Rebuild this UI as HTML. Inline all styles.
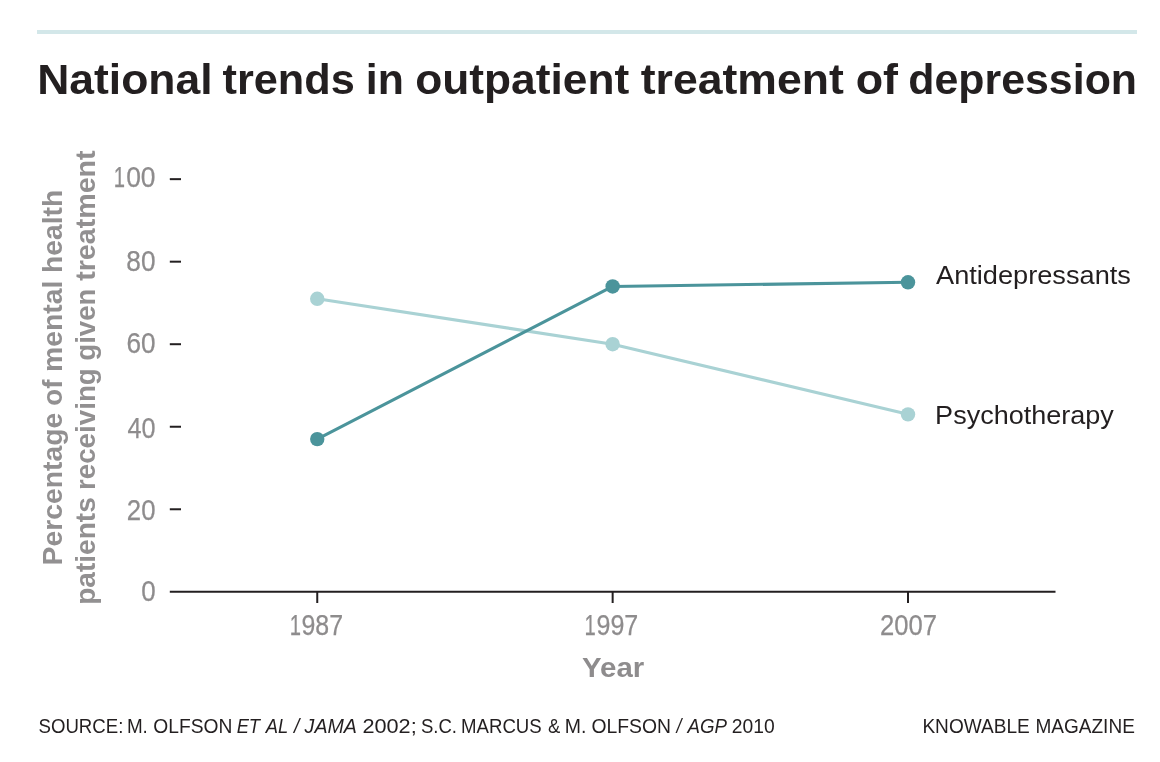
<!DOCTYPE html>
<html lang="en">
<head>
<meta charset="utf-8">
<title>National trends in outpatient treatment of depression</title>
<style>
html,body{margin:0;padding:0;background:#fff;}
body{width:1160px;height:762px;overflow:hidden;font-family:"Liberation Sans",sans-serif;}
svg{display:block;}
text{font-family:"Liberation Sans",sans-serif;white-space:pre;}
.title{font-weight:bold;font-size:43px;fill:#231f20;}
.num{font-size:29.6px;fill:#8e8c8d;stroke:#8e8c8d;stroke-width:0.25px;}
.axt{font-weight:bold;font-size:27px;fill:#929091;}
.yr{font-weight:bold;font-size:28.2px;fill:#8e8c8d;}
.ser{font-size:26px;fill:#231f20;}
.foot{font-size:20px;fill:#231f20;}
</style>
</head>
<body>
<svg width="1160" height="762" viewBox="0 0 1160 762">
<rect x="0" y="0" width="1160" height="762" fill="#ffffff"/>
<rect id="topline" x="37" y="30" width="1100" height="4" fill="#d3e7e9"/>
<text class="title" y="94"><tspan id="t0" x="37.15" textLength="175.45" lengthAdjust="spacingAndGlyphs">National</tspan> <tspan id="t1" x="222.49" textLength="132.29" lengthAdjust="spacingAndGlyphs">trends</tspan> <tspan id="t2" x="365.82" textLength="38.06" lengthAdjust="spacingAndGlyphs">in</tspan> <tspan id="t3" x="415.23" textLength="214.02" lengthAdjust="spacingAndGlyphs">outpatient</tspan> <tspan id="t4" x="640.75" textLength="203.00" lengthAdjust="spacingAndGlyphs">treatment</tspan> <tspan id="t5" x="855.67" textLength="42.33" lengthAdjust="spacingAndGlyphs">of</tspan> <tspan id="t6" x="908.22" textLength="228.83" lengthAdjust="spacingAndGlyphs">depression</tspan></text>
<g id="ytitle" transform="rotate(-90)">
<text class="axt" y="62.2"><tspan id="ya0" x="-565.42" textLength="152.58" lengthAdjust="spacingAndGlyphs">Percentage</tspan> <tspan id="ya1" x="-405.70" textLength="26.14" lengthAdjust="spacingAndGlyphs">of</tspan> <tspan id="ya2" x="-372.01" textLength="91.43" lengthAdjust="spacingAndGlyphs">mental</tspan> <tspan id="ya3" x="-272.98" textLength="83.10" lengthAdjust="spacingAndGlyphs">health</tspan></text>
<text class="axt" y="95.3"><tspan id="yb0" x="-604.80" textLength="107.61" lengthAdjust="spacingAndGlyphs">patients</tspan> <tspan id="yb1" x="-490.05" textLength="121.85" lengthAdjust="spacingAndGlyphs">receiving</tspan> <tspan id="yb2" x="-360.67" textLength="71.99" lengthAdjust="spacingAndGlyphs">given</tspan> <tspan id="yb3" x="-280.81" textLength="130.41" lengthAdjust="spacingAndGlyphs">treatment</tspan></text>
</g>
<g id="ylabels">
<text class="num" y="186.50"><tspan id="y100a" x="113.68" textLength="11.26" lengthAdjust="spacingAndGlyphs">1</tspan><tspan id="y100b" x="126.19" textLength="29.37" lengthAdjust="spacingAndGlyphs">00</tspan></text>
<text class="num" y="270.70"><tspan id="y80" x="126.32" textLength="29.20" lengthAdjust="spacingAndGlyphs">80</tspan></text>
<text class="num" y="353.40"><tspan id="y60" x="126.41" textLength="29.11" lengthAdjust="spacingAndGlyphs">60</tspan></text>
<text class="num" y="437.60"><tspan id="y40" x="127.42" textLength="28.08" lengthAdjust="spacingAndGlyphs">40</tspan></text>
<text class="num" y="520.00"><tspan id="y20" x="126.87" textLength="28.65" lengthAdjust="spacingAndGlyphs">20</tspan></text>
<text class="num" y="600.70"><tspan id="y0" x="141.15" textLength="14.44" lengthAdjust="spacingAndGlyphs">0</tspan></text>
</g>
<g id="yticks" stroke="#231f20" stroke-width="2"><line x1="169.8" x2="181" y1="179.15" y2="179.15"/><line x1="169.8" x2="181" y1="261.68" y2="261.68"/><line x1="169.8" x2="181" y1="344.21" y2="344.21"/><line x1="169.8" x2="181" y1="426.74" y2="426.74"/><line x1="169.8" x2="181" y1="509.27" y2="509.27"/></g>
<g id="xaxis" stroke="#231f20" stroke-width="2"><line x1="169.8" x2="1055.5" y1="591.8" y2="591.8"/><line x1="317.25" x2="317.25" y1="591.8" y2="603"/><line x1="612.65" x2="612.65" y1="591.8" y2="603"/><line x1="908.0" x2="908.0" y1="591.8" y2="603"/></g>
<g id="xlabels">
<text class="num" y="634.90"><tspan id="x1987a" x="289.68" textLength="11.26" lengthAdjust="spacingAndGlyphs">1</tspan><tspan id="x1987b" x="301.44" textLength="41.62" lengthAdjust="spacingAndGlyphs">987</tspan></text>
<text class="num" y="634.90"><tspan id="x1997a" x="584.47" textLength="11.26" lengthAdjust="spacingAndGlyphs">1</tspan><tspan id="x1997b" x="596.44" textLength="41.87" lengthAdjust="spacingAndGlyphs">997</tspan></text>
<text class="num" y="634.90"><tspan id="x2007" x="879.95" textLength="57.05" lengthAdjust="spacingAndGlyphs">2007</tspan></text>
</g>
<text class="yr" y="676.70"><tspan id="year" x="582.09" textLength="62.07" lengthAdjust="spacingAndGlyphs">Year</tspan></text>
<g id="light"><polyline points="317.25,298.82 612.65,344.21 908.0,414.36" fill="none" stroke="#a9d2d4" stroke-width="3.1" stroke-linejoin="round"/><circle cx="317.25" cy="298.82" r="7.2" fill="#a9d2d4"/><circle cx="612.65" cy="344.21" r="7.2" fill="#a9d2d4"/><circle cx="908.0" cy="414.36" r="7.2" fill="#a9d2d4"/></g>
<g id="dark"><polyline points="317.25,439.12 612.65,286.44 908.0,282.31" fill="none" stroke="#4b949b" stroke-width="3.1" stroke-linejoin="round"/><circle cx="317.25" cy="439.12" r="7.2" fill="#4b949b"/><circle cx="612.65" cy="286.44" r="7.2" fill="#4b949b"/><circle cx="908.0" cy="282.31" r="7.2" fill="#4b949b"/></g>
<text class="ser" y="284.20"><tspan id="lab1" x="936.00" textLength="194.91" lengthAdjust="spacingAndGlyphs">Antidepressants</tspan></text>
<text class="ser" y="423.50"><tspan id="lab2" x="935.12" textLength="178.78" lengthAdjust="spacingAndGlyphs">Psychotherapy</tspan></text>
<text class="foot" y="732.8"><tspan id="s0" x="38.47" textLength="84.85" lengthAdjust="spacingAndGlyphs">SOURCE:</tspan> <tspan id="s1" x="126.89" textLength="20.95" lengthAdjust="spacingAndGlyphs">M.</tspan> <tspan id="s2" x="153.37" textLength="79.09" lengthAdjust="spacingAndGlyphs">OLFSON</tspan> <tspan id="s3" x="236.66" textLength="23.36" lengthAdjust="spacingAndGlyphs" font-style="italic">ET</tspan> <tspan id="s4" x="265.67" textLength="22.46" lengthAdjust="spacingAndGlyphs" font-style="italic">AL</tspan> <tspan id="s5" x="293.90" textLength="5.34" lengthAdjust="spacingAndGlyphs" font-style="italic">/</tspan> <tspan id="s6" x="304.60" textLength="52.38" lengthAdjust="spacingAndGlyphs" font-style="italic">JAMA</tspan> <tspan id="s7" x="362.44" textLength="54.28" lengthAdjust="spacingAndGlyphs">2002;</tspan> <tspan id="s8" x="420.88" textLength="36.10" lengthAdjust="spacingAndGlyphs">S.C.</tspan> <tspan id="s9" x="461.05" textLength="80.68" lengthAdjust="spacingAndGlyphs">MARCUS</tspan> <tspan id="s10" x="547.95" textLength="12.27" lengthAdjust="spacingAndGlyphs">&amp;</tspan> <tspan id="s11" x="564.75" textLength="21.61" lengthAdjust="spacingAndGlyphs">M.</tspan> <tspan id="s12" x="591.42" textLength="79.48" lengthAdjust="spacingAndGlyphs">OLFSON</tspan> <tspan id="s13" x="676.41" textLength="4.98" lengthAdjust="spacingAndGlyphs" font-style="italic">/</tspan> <tspan id="s14" x="687.53" textLength="39.47" lengthAdjust="spacingAndGlyphs" font-style="italic">AGP</tspan> <tspan id="s15" x="731.82" textLength="42.91" lengthAdjust="spacingAndGlyphs">2010</tspan></text>
<text class="foot" y="732.7"><tspan id="k0" x="922.42" textLength="107.35" lengthAdjust="spacingAndGlyphs">KNOWABLE</tspan> <tspan id="k1" x="1035.47" textLength="99.36" lengthAdjust="spacingAndGlyphs">MAGAZINE</tspan></text>
</svg>
</body>
</html>
